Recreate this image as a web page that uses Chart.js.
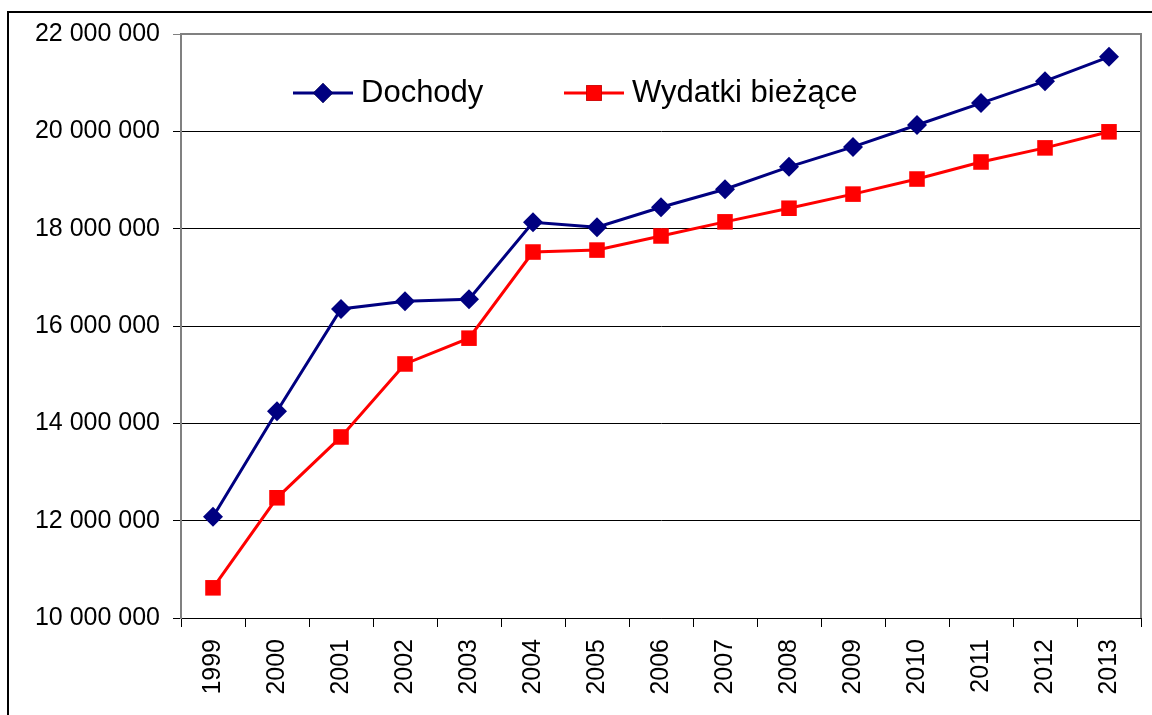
<!DOCTYPE html>
<html>
<head>
<meta charset="utf-8">
<script src="https://cdn.jsdelivr.net/npm/chart.js@4/dist/chart.umd.min.js"></script>
<style>
  html, body { margin: 0; padding: 0; background: #fff; overflow: hidden; }
  #frame { position: absolute; left: 7px; top: 11px; width: 2000px; height: 2000px;
           border-left: 2px solid #000; border-top: 2px solid #000; }
  #chart { position: absolute; left: 0; top: 0; }
</style>
</head>
<body>
<div id="frame"></div>
<canvas id="chart" width="1152" height="715"></canvas>
<script>
const years = ["1999", "2000", "2001", "2002", "2003", "2004", "2005", "2006",
               "2007", "2008", "2009", "2010", "2011", "2012", "2013"];
const dochody = [12080000, 14250000, 16350000, 16510000, 16550000, 18130000, 18030000, 18440000,
                 18810000, 19270000, 19680000, 20130000, 20580000, 21030000, 21530000];
const wydatki = [10620000, 12470000, 13720000, 15220000, 15750000, 17520000, 17560000, 17850000,
                 18140000, 18420000, 18710000, 19020000, 19370000, 19660000, 19990000];
const yMin = 10000000, yMax = 22000000, yStep = 2000000;

const font = "'Liberation Sans', Arial, sans-serif";

function spaced(v) {
    return String(v).replace(/\B(?=(\d{3})+(?!\d))/g, " ");
}

// legend drawn inside the plot: line with marker in the middle, then label
const innerLegend = {
    id: "innerLegend",
    afterDraw(chart) {
        const ctx = chart.ctx;
        const area = chart.chartArea;
        const y = area.top + 59;
        const starts = [area.left + 112, area.left + 383];
        chart.data.datasets.forEach((ds, i) => {
            const x0 = starts[i];
            ctx.save();
            ctx.strokeStyle = ds.borderColor;
            ctx.lineWidth = 3;
            ctx.beginPath();
            ctx.moveTo(x0, y);
            ctx.lineTo(x0 + 60, y);
            ctx.stroke();
            Chart.helpers.drawPoint(ctx, {
                pointStyle: ds.pointStyle,
                radius: ds.pointRadius,
                borderWidth: 0
            }, x0 + 30, y);
            ctx.fillStyle = ds.pointBackgroundColor;
            ctx.fill();
            ctx.fillStyle = "#000";
            ctx.font = "31px " + font;
            ctx.textBaseline = "alphabetic";
            ctx.fillText(ds.label, x0 + 68, y + 9);
            ctx.restore();
        });
        // plot frame on the top and right side
        ctx.save();
        ctx.strokeStyle = "#808080";
        ctx.lineWidth = 2;
        ctx.beginPath();
        ctx.moveTo(area.left, area.top);
        ctx.lineTo(area.right, area.top);
        ctx.lineTo(area.right, area.bottom);
        ctx.stroke();
        ctx.restore();
    }
};

new Chart(document.getElementById("chart"), {
    type: "line",
    data: {
        labels: years,
        datasets: [{
            label: "Dochody",
            data: dochody,
            borderColor: "#000080",
            backgroundColor: "#000080",
            pointBackgroundColor: "#000080",
            pointBorderColor: "#000080",
            borderWidth: 3,
            pointStyle: "rectRot",
            pointRadius: 10,
            pointBorderWidth: 0,
            tension: 0
        }, {
            label: "Wydatki bieżące",
            data: wydatki,
            borderColor: "#ff0000",
            backgroundColor: "#ff0000",
            pointBackgroundColor: "#ff0000",
            pointBorderColor: "#ff0000",
            borderWidth: 3,
            pointStyle: "rect",
            pointRadius: 11,
            pointBorderWidth: 0,
            tension: 0
        }]
    },
    options: {
        responsive: false,
        animation: false,
        devicePixelRatio: 1,
        layout: { padding: { left: 0, top: 34, right: 8, bottom: 0 } },
        plugins: {
            legend: { display: false },
            tooltip: { enabled: false }
        },
        scales: {
            x: {
                offset: true,
                grid: {
                    offset: true,
                    drawOnChartArea: false,
                    tickLength: 9,
                    color: "#000"
                },
                border: { color: "#000", width: 1 },
                ticks: {
                    minRotation: 90,
                    maxRotation: 90,
                    padding: 12,
                    color: "#000",
                    font: { family: font, size: 25 }
                },
                afterFit(scale) {
                    scale.height = 97;
                    scale.paddingLeft = 0;
                    scale.paddingRight = 0;
                }
            },
            y: {
                min: yMin,
                max: yMax,
                ticks: {
                    stepSize: yStep,
                    padding: 13,
                    color: "#000",
                    font: { family: font, size: 25 },
                    callback: v => spaced(v)
                },
                grid: {
                    tickLength: 8,
                    color: c => (c.tick && c.tick.value === yMax) ? "#808080" : "#000",
                    lineWidth: 1
                },
                border: { color: "#808080", width: 2 },
                afterFit(scale) {
                    scale.width = 181;
                    scale.paddingTop = 0;
                    scale.paddingBottom = 0;
                }
            }
        }
    },
    plugins: [innerLegend]
});
</script>
</body>
</html>
